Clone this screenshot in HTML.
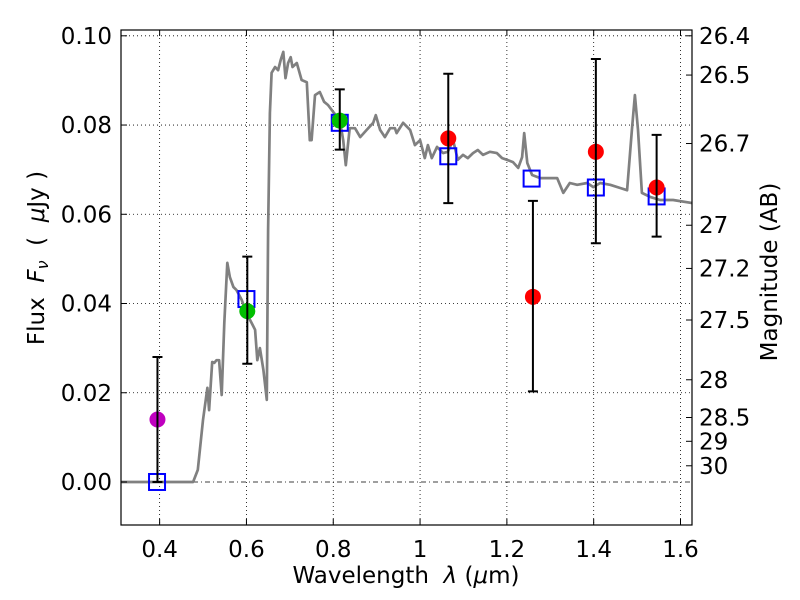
<!DOCTYPE html>
<html><head><meta charset="utf-8"><style>
body{margin:0;background:#fff}
svg{display:block;font-family:"DejaVu Sans","Liberation Sans",sans-serif}
text{white-space:pre}
</style></head><body>
<svg id="chart" width="800" height="600" viewBox="0 0 800 600">
<rect width="800" height="600" fill="#fff"/>
<g id="grid"></g>
<g id="plot"></g>
<g id="axes"></g>
</svg>
<script>
const specWave=[0.311,0.477,0.488,0.500,0.510,0.514,0.521,0.526,0.531,0.537,0.543,0.549,0.556,0.562,0.570,0.577,0.589,0.600,0.612,0.620,0.625,0.631,0.639,0.647,0.650,0.654,0.658,0.666,0.673,0.679,0.685,0.690,0.696,0.702,0.706,0.716,0.727,0.739,0.746,0.750,0.758,0.769,0.779,0.788,0.800,0.815,0.823,0.829,0.838,0.850,0.862,0.877,0.892,0.898,0.908,0.919,0.931,0.942,0.946,0.961,0.977,0.988,1.000,1.011,1.018,1.027,1.039,1.053,1.064,1.076,1.087,1.099,1.110,1.122,1.133,1.145,1.161,1.177,1.189,1.200,1.214,1.226,1.235,1.240,1.247,1.258,1.277,1.295,1.316,1.330,1.345,1.362,1.385,1.399,1.415,1.438,1.461,1.477,1.488,1.495,1.502,1.511,1.530,1.553,1.583,1.627];
const specFlux=[0,0,0.0027,0.0139,0.0211,0.0161,0.0269,0.0267,0.0273,0.0273,0.0195,0.0356,0.0491,0.0459,0.0437,0.0430,0.0408,0.0379,0.0356,0.0341,0.0273,0.0300,0.0251,0.0184,0.0565,0.0827,0.0917,0.0930,0.0923,0.0946,0.0964,0.0905,0.0939,0.0952,0.0930,0.0939,0.0901,0.0896,0.0766,0.0766,0.0867,0.0874,0.0852,0.0845,0.0829,0.0811,0.0766,0.0710,0.0793,0.0793,0.0773,0.0789,0.0805,0.0822,0.0789,0.0773,0.0793,0.0793,0.0782,0.0805,0.0789,0.0755,0.0766,0.0726,0.0755,0.0726,0.0751,0.0737,0.0740,0.0766,0.0722,0.0733,0.0726,0.0737,0.0744,0.0733,0.0740,0.0737,0.0726,0.0722,0.0717,0.0704,0.0728,0.0782,0.0715,0.0688,0.0681,0.0681,0.0681,0.0648,0.0670,0.0666,0.0670,0.0661,0.0670,0.0666,0.0659,0.0654,0.0789,0.0867,0.0789,0.0648,0.0639,0.0632,0.0632,0.0625];
const obsWave=[0.395,0.602,0.815,1.065,1.260,1.405,1.545];
const obsFlux=[0.014,0.0383,0.081,0.077,0.0415,0.074,0.066];
const errLow=[0.0,0.0265,0.0745,0.0625,0.0203,0.0535,0.055];
const errHigh=[0.028,0.0505,0.088,0.0915,0.063,0.0948,0.0778];
const obsColor=["#bf00bf","#00bf00","#00bf00","#ff0000","#ff0000","#ff0000","#ff0000"];
const modelWave=[0.394,0.6,0.815,1.065,1.257,1.405,1.545];
const modelFlux=[0.0,0.041,0.0805,0.073,0.068,0.066,0.064];
const xTicks=[0.4,0.6,0.8,1.0,1.2,1.4,1.6];
const xTickLabels=["0.4","0.6","0.8","1","1.2","1.4","1.6"];
const yTicks=[0,0.02,0.04,0.06,0.08,0.10];
const yTickLabels=["0.00","0.02","0.04","0.06","0.08","0.10"];
const magTicks=[26.4,26.5,26.7,27,27.2,27.5,28,28.5,29,30];
const magTickLabels=["26.4","26.5","26.7","27","27.2","27.5","28","28.5","29","30"];

const L=121,R=692,T=30,B=525;
const X0=0.311,X1=1.6265,Y0=-0.00964,Y1=0.1013;
const sx=v=>L+(v-X0)/(X1-X0)*(R-L);
const sy=v=>B-(v-Y0)/(Y1-Y0)*(B-T);
const NS="http://www.w3.org/2000/svg";
function mk(tag,attrs,parent){const e=document.createElementNS(NS,tag);for(const k in attrs)e.setAttribute(k,attrs[k]);parent.appendChild(e);return e;}
const grid=document.getElementById('grid'),plot=document.getElementById('plot'),axes=document.getElementById('axes');
const FS=23;

xTicks.forEach((t,i)=>{
  const g=mk('line',{x1:sx(t),x2:sx(t),y1:T,y2:B,stroke:'#000','stroke-width':0.8,'stroke-dasharray':'1,3'},grid);
  
  
  mk('line',{x1:sx(t),x2:sx(t),y1:B,y2:B-6,stroke:'#000','stroke-width':1},axes);
  mk('line',{x1:sx(t),x2:sx(t),y1:T,y2:T+6,stroke:'#000','stroke-width':1},axes);
  const tx=mk('text',{x:sx(t),y:557,'font-size':FS,'text-anchor':'middle'},axes);
  tx.textContent=xTickLabels[i];
  
  
});
yTicks.forEach((t,i)=>{
  const g=mk('line',{x1:L,x2:R,y1:sy(t),y2:sy(t),stroke:'#000','stroke-width':0.8,'stroke-dasharray':t===0?'5,3,1,3':'1,3'},grid);
  
  
  mk('line',{x1:L,x2:L+6,y1:sy(t),y2:sy(t),stroke:'#000','stroke-width':1},axes);
  const tx=mk('text',{x:112,y:sy(t)+8,'font-size':FS,'text-anchor':'end'},axes);
  tx.textContent=yTickLabels[i];
  
  
});
magTicks.forEach((m,i)=>{
  const f=Math.pow(10,(23.9-m)/2.5);
  mk('line',{x1:R,x2:R-6,y1:sy(f),y2:sy(f),stroke:'#000','stroke-width':1},axes);
  const tx=mk('text',{x:699,y:sy(f)+8,'font-size':FS},axes);
  tx.textContent=magTickLabels[i];
  
  
});

const pts=specWave.map((w,i)=>sx(w).toFixed(1)+','+sy(specFlux[i]).toFixed(1)).join(' ');
const sp=mk('polyline',{points:pts,fill:'none',stroke:'#808080','stroke-width':2.7,'stroke-linejoin':'round'},plot);



modelWave.forEach((w,i)=>{
  const s=mk('rect',{x:sx(w)-8,y:sy(modelFlux[i])-8,width:16,height:16,fill:'none',stroke:'#0000ff','stroke-width':2},plot);
  
  
});
obsWave.forEach((w,i)=>{
  const c=mk('circle',{cx:sx(w),cy:sy(obsFlux[i]),r:8,fill:obsColor[i]},plot);
  
  
});
obsWave.forEach((w,i)=>{
  const x=sx(w),y1=sy(errLow[i]),y2=sy(errHigh[i]);
  const eb=mk('path',{d:`M${x},${y1}V${y2}M${x-5},${y1}H${x+5}M${x-5},${y2}H${x+5}`,stroke:'#000','stroke-width':2,fill:'none'},plot);
  
  
});

const fr=mk('rect',{x:L,y:T,width:R-L,height:B-T,fill:'none',stroke:'#000','stroke-width':1.2},axes);



const xt=mk('text',{x:406,y:583,'font-size':FS,'text-anchor':'middle'},axes);
xt.innerHTML='Wavelength  <tspan font-style="italic">λ</tspan> (<tspan font-style="italic">μ</tspan>m)';



const yt=mk('text',{x:0,y:0,'font-size':FS,'text-anchor':'middle',transform:'translate(44,258) rotate(-90)'},axes);
yt.innerHTML='Flux  <tspan font-style="italic">F</tspan><tspan font-style="italic" font-size="16" dy="4">ν</tspan><tspan dy="-4">  (  </tspan><tspan font-style="italic">μ</tspan>Jy )';



const rt=mk('text',{x:0,y:0,'font-size':FS,'text-anchor':'middle',transform:'translate(777,272) rotate(-90)'},axes);
rt.textContent='Magnitude (AB)';


</script>
</body></html>
